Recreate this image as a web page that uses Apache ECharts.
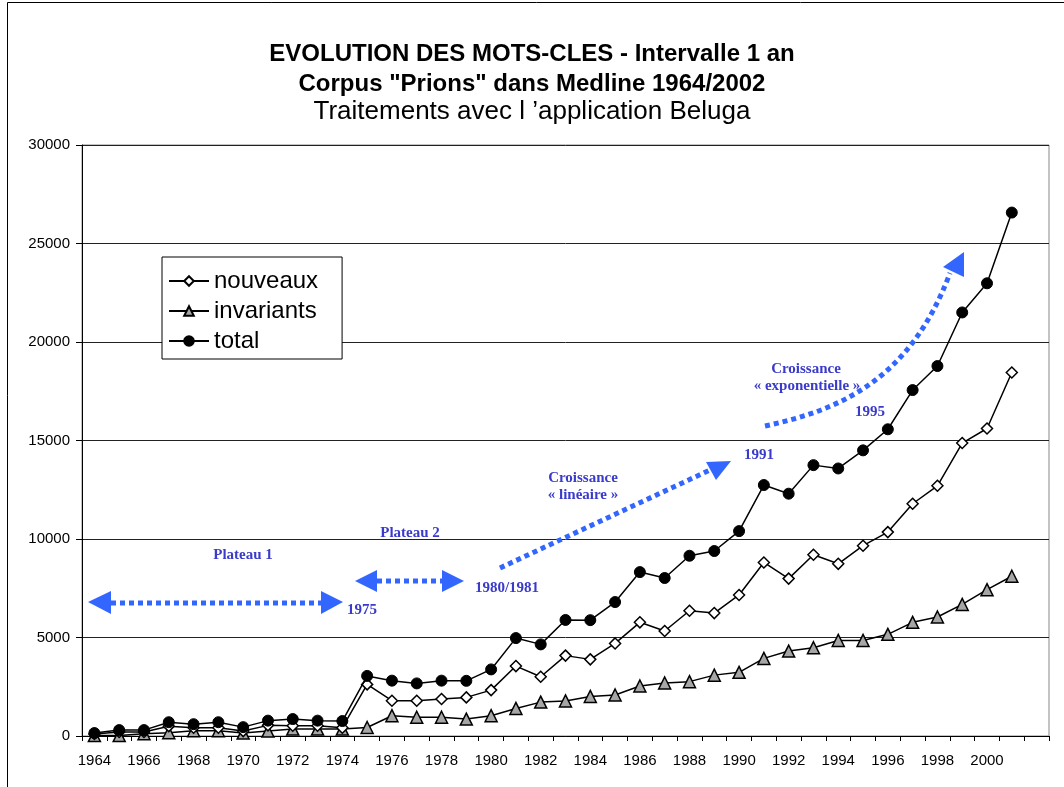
<!DOCTYPE html>
<html>
<head>
<meta charset="utf-8">
<script src="https://cdn.jsdelivr.net/npm/echarts@6/dist/echarts.min.js"></script>
<style>
  html, body { margin: 0; padding: 0; background: #fff; }
  #main { width: 1064px; height: 787px; }
</style>
</head>
<body>
<div id="main"></div>
<script>
// années 1964 -> 2002 (2002 sans données)
var years = ['1964','1965','1966','1967','1968','1969','1970','1971','1972','1973','1974',
  '1975','1976','1977','1978','1979','1980','1981','1982','1983','1984','1985','1986',
  '1987','1988','1989','1990','1991','1992','1993','1994','1995','1996','1997','1998',
  '1999','2000','2001','2002'];

var nouveaux = [100, 200, 200, 500, 420, 420, 250, 540, 520, 520, 420,
  2620, 1790, 1790, 1880, 1960, 2330, 3550, 3010, 4080, 3890, 4700, 5770,
  5330, 6360, 6240, 7160, 8810, 7990, 9200, 8740, 9660, 10350, 11790, 12700,
  14870, 15610, 18450, null];

var invariants = [20, 20, 120, 170, 270, 270, 150, 250, 350, 350, 350,
  430, 1030, 950, 950, 860, 1030, 1400, 1720, 1780, 2010, 2080, 2540,
  2690, 2760, 3090, 3230, 3940, 4310, 4480, 4850, 4850, 5160, 5770, 6040,
  6680, 7430, 8110, null];

var total = [150, 300, 300, 700, 600, 700, 450, 780, 860, 780, 760,
  3050, 2810, 2670, 2810, 2800, 3380, 4970, 4650, 5890, 5880, 6800, 8320,
  8020, 9150, 9390, 10400, 12740, 12300, 13750, 13580, 14500, 15570, 17560, 18780,
  21500, 22980, 26570, null];

var yTicks = { min: 0, max: 30000, step: 5000 };

var blue = '#3366ff';
var noteColor = '#3a3acb';
var dotted = { stroke: blue, lineWidth: 5, lineDash: [5, 4], fill: null };

function note(x, y, txt) {
  return {
    type: 'text', x: x, y: y, z: 50,
    style: { text: txt, fill: noteColor, font: 'bold 15px "Liberation Serif"', align: 'center', verticalAlign: 'middle' }
  };
}
function seg(x1, y1, x2, y2) {
  return { type: 'line', z: 50, shape: { x1: x1, y1: y1, x2: x2, y2: y2 }, style: dotted };
}
function head(pts) {
  return { type: 'polygon', z: 50, shape: { points: pts }, style: { fill: blue } };
}

var chart = echarts.init(document.getElementById('main'));
var option = {
  backgroundColor: '#fff',
  animation: false,
  textStyle: { fontFamily: 'Liberation Sans' },
  title: [
    { text: 'EVOLUTION DES MOTS-CLES - Intervalle 1 an', left: 'center', top: 37,
      textStyle: { fontSize: 24, fontWeight: 'bold', color: '#000', fontFamily: 'Liberation Sans' } },
    { text: 'Corpus "Prions" dans Medline 1964/2002', left: 'center', top: 67,
      textStyle: { fontSize: 24, fontWeight: 'bold', color: '#000', fontFamily: 'Liberation Sans' } },
    { text: 'Traitements avec l \u2019application Beluga', left: 'center', top: 94,
      textStyle: { fontSize: 26, fontWeight: 'normal', color: '#000', fontFamily: 'Liberation Sans' } }
  ],
  legend: {
    orient: 'vertical',
    left: 162, top: 257,
    padding: [12, 24, 6, 6],
    backgroundColor: '#fff',
    borderColor: '#000',
    borderWidth: 1,
    itemWidth: 40,
    itemHeight: 12,
    itemGap: 6,
    textStyle: { fontSize: 24, lineHeight: 24, color: '#000', fontFamily: 'Liberation Sans' },
    data: ['nouveaux', 'invariants', 'total']
  },
  grid: {
    left: 82, right: 15, top: 145, bottom: 51,
    show: true, borderColor: '#888', borderWidth: 1
  },
  xAxis: {
    type: 'category',
    data: years,
    boundaryGap: true,
    axisLine: { lineStyle: { color: '#000', width: 1 } },
    axisTick: { show: true, interval: 0, length: 5, lineStyle: { color: '#000' } },
    axisLabel: {
      interval: 1, fontSize: 15, color: '#000', margin: 17,
      formatter: function (v) { return v === '2002' ? '' : v; }
    }
  },
  yAxis: {
    type: 'value',
    min: yTicks.min, max: yTicks.max, interval: yTicks.step,
    axisLine: { show: true, lineStyle: { color: '#000', width: 1 } },
    axisTick: { show: true, length: 6, lineStyle: { color: '#000' } },
    axisLabel: { fontSize: 15, color: '#000', margin: 12, formatter: function (v) { return String(v); } },
    splitLine: { show: true, lineStyle: { color: '#222', width: 1 } }
  },
  series: [
    {
      name: 'nouveaux', type: 'line', data: nouveaux,
      symbol: 'diamond', symbolSize: 11,
      lineStyle: { color: '#000', width: 1.5 },
      itemStyle: { color: '#fff', borderColor: '#000', borderWidth: 1.5 },
      z: 3
    },
    {
      name: 'invariants', type: 'line', data: invariants,
      symbol: 'triangle', symbolSize: 12,
      lineStyle: { color: '#000', width: 1.5 },
      itemStyle: { color: '#a6a6a6', borderColor: '#000', borderWidth: 1.5 },
      z: 2
    },
    {
      name: 'total', type: 'line', data: total,
      symbol: 'circle', symbolSize: 11,
      lineStyle: { color: '#000', width: 1.5 },
      itemStyle: { color: '#000', borderColor: '#000', borderWidth: 1 },
      z: 4
    }
  ],
  graphic: [
    { type: 'rect', z: -10, shape: { x: 7.5, y: 2.5, width: 1200, height: 900 }, style: { fill: null, stroke: '#000', lineWidth: 1 } },
    // Plateau 1
    seg(111, 603, 321, 603),
    head([[88, 602], [111, 591], [111, 614]]),
    head([[343, 602], [321, 591], [321, 614]]),
    note(243, 555, 'Plateau 1'),
    note(362, 610, '1975'),
    // Plateau 2
    seg(377, 581, 442, 581),
    head([[355, 581], [377, 570], [377, 592]]),
    head([[464, 581], [442, 570], [442, 592]]),
    note(410, 533, 'Plateau 2'),
    note(507, 588, '1980/1981'),
    // croissance linéaire
    seg(500, 568, 710, 470),
    head([[731, 461], [706, 462], [716, 480]]),
    note(583, 478, 'Croissance'),
    note(583, 495, '\u00ab lin\u00e9aire \u00bb'),
    note(759, 455, '1991'),
    // croissance exponentielle
    { type: 'bezierCurve', z: 50, shape: { x1: 765, y1: 426, cpx1: 840, cpy1: 410, cpx2: 910, cpy2: 380, x2: 950, y2: 273 }, style: dotted },
    head([[964, 252], [943, 267], [964, 277]]),
    note(806, 369, 'Croissance'),
    note(807, 386, '\u00ab exponentielle \u00bb'),
    note(870, 412, '1995')
  ]
};
chart.setOption(option);
</script>
</body>
</html>
